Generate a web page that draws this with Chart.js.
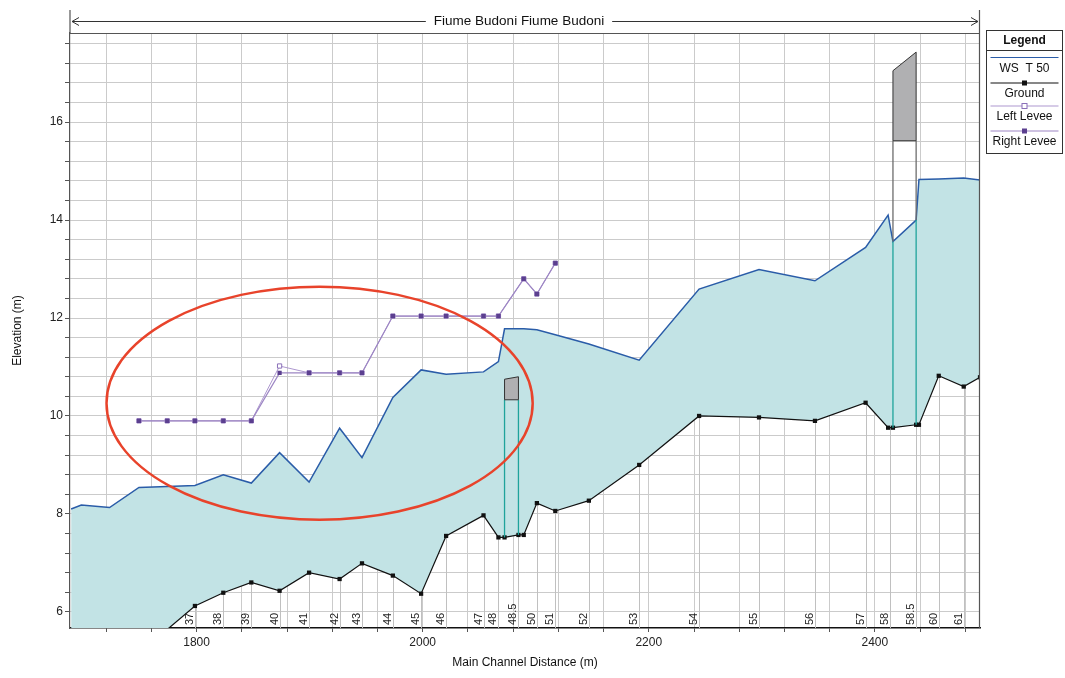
<!DOCTYPE html>
<html lang="en">
<head>
    <meta charset="UTF-8">
    <title>Fiume Budoni</title>
    <script src="https://cdn.jsdelivr.net/npm/chart.js"></script>
    <style>
        * { margin: 0; padding: 0; box-sizing: border-box; }
        body { background: #fff; width: 1065px; height: 678px; overflow: hidden; }
        .wrap { position: relative; width: 1065px; height: 678px; }
    </style>
</head>
<body>
    <div class="wrap">
        <canvas id="profileChart" width="1065" height="678"></canvas>
    </div>

    <script>
        // profile along the main channel (m)
        const profileDist = [1689, 1698, 1723, 1749, 1774, 1798.5, 1823.6, 1848.4, 1873.4, 1899.5, 1926.5, 1946.3, 1973.6, 1998.6, 2020.7, 2053.8, 2067, 2072.4, 2084.7, 2089.4, 2101, 2117.3, 2147, 2191.5, 2244.5, 2297.5, 2347, 2391.8, 2411.7, 2416, 2436.5, 2439, 2456.5, 2478.6, 2493];
        const wsElev = [8.10, 8.18, 8.13, 8.54, 8.56, 8.58, 8.80, 8.63, 9.25, 8.65, 9.75, 9.15, 10.38, 10.94, 10.85, 10.90, 11.11, 11.78, 11.78, 11.78, 11.76, 11.66, 11.47, 11.14, 12.59, 12.99, 12.76, 13.44, 14.10, 13.56, 14.00, 14.83, 14.84, 14.86, 14.82];
        const groundElev = [4.2, 4.4, 4.8, 5.2, 5.64, 6.12, 6.39, 6.60, 6.43, 6.80, 6.67, 6.99, 6.74, 6.37, 7.55, 7.97, 7.52, 7.52, 7.57, 7.57, 8.22, 8.06, 8.27, 9.00, 10.00, 9.97, 9.90, 10.27, 9.76, 9.76, 9.82, 9.82, 10.82, 10.60, 10.79];

        // levees
        const leveeDist = [1749, 1774, 1798.5, 1823.6, 1848.4, 1873.4, 1899.5, 1926.5, 1946.3, 1973.6, 1998.6, 2020.7, 2053.8, 2067, 2089.4, 2101, 2117.3];
        const rightLevee = [9.90, 9.90, 9.90, 9.90, 9.90, 10.88, 10.88, 10.88, 10.88, 12.04, 12.04, 12.04, 12.04, 12.04, 12.80, 12.49, 13.12];
        const leftLevee = [9.90, 9.90, 9.90, 9.90, 9.90, 11.02, 10.88, 10.88, 10.88, 12.04, 12.04, 12.04, 12.04, 12.04, 12.80, 12.49, 13.12];

        // cross section labels
        const stationNames = ['37', '38', '39', '40', '41', '42', '43', '44', '45', '46', '47', '48', '48.5', '50', '51', '52', '53', '54', '55', '56', '57', '58', '58.5', '60', '61'];
        const stationDist = [1798.5, 1823.6, 1848.4, 1873.4, 1899.5, 1926.5, 1946.3, 1973.6, 1998.6, 2020.7, 2053.8, 2067, 2084.7, 2101, 2117.3, 2147, 2191.5, 2244.5, 2297.5, 2347, 2391.8, 2413, 2436.5, 2456.5, 2478.6];

        // bridges
        const bridgeUpDist = [2072.4, 2416];
        const bridgeDownDist = [2084.7, 2436.5];
        const bridgeLowChord = [10.33, 15.62];
        const bridgeHighUp = [10.75, 17.05];
        const bridgeHighDown = [10.80, 17.43];

        // axes
        const xMin = 1688, xMax = 2493;
        const yMin = 5.67, yMax = 17.82;
        const xTicks = [];
        for (let i = 43; i <= 62; i++) xTicks.push(i * 40);
        const yTicks = [];
        for (let i = 15; i <= 44; i++) yTicks.push(Math.round(i * 4) / 10);

        // red ellipse drawn over the picture
        const markCenter = [1908.8, 10.26];
        const markRadius = [188.5, 2.38];

        const FONT = "'Liberation Sans', Arial, sans-serif";

        function toXY(xs, ys) {
            return xs.map((x, i) => ({ x: x, y: ys[i] }));
        }

        function interp(xs, ys, x) {
            for (let i = 0; i < xs.length - 1; i++) {
                if (x >= xs[i] && x <= xs[i + 1]) {
                    const t = (x - xs[i]) / (xs[i + 1] - xs[i]);
                    return ys[i] + t * (ys[i + 1] - ys[i]);
                }
            }
            return ys[ys.length - 1];
        }

        const profileExtras = {
            id: 'profileExtras',
            beforeDatasetsDraw(chart) {
                const { ctx, chartArea, scales } = chart;
                const xs = scales.x, ys = scales.y;
                ctx.save();
                ctx.strokeStyle = '#c0c0c0';
                ctx.lineWidth = 1;
                stationDist.forEach(d => {
                    const px = Math.round(xs.getPixelForValue(d)) + 0.5;
                    const py = ys.getPixelForValue(interp(profileDist, groundElev, d));
                    ctx.beginPath();
                    ctx.moveTo(px, py);
                    ctx.lineTo(px, chartArea.bottom);
                    ctx.stroke();
                });
                ctx.restore();
            },
            afterDatasetsDraw(chart) {
                const { ctx, chartArea, scales } = chart;
                const xs = scales.x, ys = scales.y;
                ctx.save();

                // bridges
                bridgeUpDist.forEach((up, i) => {
                    const faces = [up, bridgeDownDist[i]];
                    const low = bridgeLowChord[i];
                    faces.forEach(d => {
                        const px = xs.getPixelForValue(d);
                        const g = interp(profileDist, groundElev, d);
                        const w = Math.min(interp(profileDist, wsElev, d), low);
                        ctx.lineWidth = 1.3;
                        ctx.strokeStyle = '#1fa39b';
                        ctx.beginPath();
                        ctx.moveTo(px, ys.getPixelForValue(g));
                        ctx.lineTo(px, ys.getPixelForValue(w));
                        ctx.stroke();
                        if (w < low) {
                            ctx.strokeStyle = '#6d6d6d';
                            ctx.beginPath();
                            ctx.moveTo(px, ys.getPixelForValue(w));
                            ctx.lineTo(px, ys.getPixelForValue(low));
                            ctx.stroke();
                        }
                    });
                    ctx.beginPath();
                    ctx.moveTo(xs.getPixelForValue(faces[0]), ys.getPixelForValue(low));
                    ctx.lineTo(xs.getPixelForValue(faces[0]), ys.getPixelForValue(bridgeHighUp[i]));
                    ctx.lineTo(xs.getPixelForValue(faces[1]), ys.getPixelForValue(bridgeHighDown[i]));
                    ctx.lineTo(xs.getPixelForValue(faces[1]), ys.getPixelForValue(low));
                    ctx.closePath();
                    ctx.fillStyle = '#b0b0b2';
                    ctx.fill();
                    ctx.strokeStyle = '#333';
                    ctx.lineWidth = 1;
                    ctx.stroke();
                });

                // station labels
                ctx.fillStyle = '#222';
                ctx.font = '11px ' + FONT;
                ctx.textAlign = 'left';
                ctx.textBaseline = 'middle';
                stationNames.forEach((name, i) => {
                    const px = xs.getPixelForValue(stationDist[i]) - 5;
                    ctx.save();
                    ctx.translate(px, chartArea.bottom - 3);
                    ctx.rotate(-Math.PI / 2);
                    ctx.fillText(name, 0, 0);
                    ctx.restore();
                });

                // red mark
                const cx = xs.getPixelForValue(markCenter[0]);
                const cy = ys.getPixelForValue(markCenter[1]);
                const rx = xs.getPixelForValue(markCenter[0] + markRadius[0]) - cx;
                const ry = cy - ys.getPixelForValue(markCenter[1] + markRadius[1]);
                ctx.strokeStyle = '#e8432b';
                ctx.lineWidth = 2.5;
                ctx.beginPath();
                ctx.ellipse(cx, cy, rx, ry, 0, 0, Math.PI * 2);
                ctx.stroke();
                ctx.restore();
            },
            afterDraw(chart) {
                const { ctx, chartArea } = chart;
                const L = chartArea.left, R = chartArea.right, T = chartArea.top, B = chartArea.bottom;
                ctx.save();

                // frame
                ctx.strokeStyle = '#555';
                ctx.lineWidth = 1.2;
                ctx.beginPath();
                ctx.moveTo(L, 10); ctx.lineTo(L, T);
                ctx.moveTo(L, T + 0.5); ctx.lineTo(R, T + 0.5);
                ctx.moveTo(R - 0.5, 10); ctx.lineTo(R - 0.5, B);
                ctx.stroke();

                // river title with arrows
                const title = 'Fiume Budoni Fiume Budoni';
                const ty = 21;
                ctx.font = '13.5px ' + FONT;
                ctx.fillStyle = '#111';
                ctx.textAlign = 'center';
                ctx.textBaseline = 'middle';
                const tx = 519;
                ctx.fillText(title, tx, ty);
                const tw = ctx.measureText(title).width;
                ctx.strokeStyle = '#333';
                ctx.lineWidth = 1;
                ctx.beginPath();
                ctx.moveTo(L + 2, ty + 0.5); ctx.lineTo(tx - tw / 2 - 8, ty + 0.5);
                ctx.moveTo(tx + tw / 2 + 8, ty + 0.5); ctx.lineTo(R - 2, ty + 0.5);
                ctx.moveTo(L + 9, ty - 3.5); ctx.lineTo(L + 2, ty + 0.5); ctx.lineTo(L + 9, ty + 4.5);
                ctx.moveTo(R - 9, ty - 3.5); ctx.lineTo(R - 2, ty + 0.5); ctx.lineTo(R - 9, ty + 4.5);
                ctx.stroke();

                // axis titles
                ctx.font = '12px ' + FONT;
                ctx.fillStyle = '#111';
                ctx.fillText('Main Channel Distance (m)', (L + R) / 2, 663);
                ctx.save();
                ctx.translate(18, (T + B) / 2);
                ctx.rotate(-Math.PI / 2);
                ctx.fillText('Elevation (m)', 0, 0);
                ctx.restore();

                // legend box
                const lx = 986.5, lw = 76, lyTop = 30.5, lyBot = 153.5;
                ctx.fillStyle = '#fff';
                ctx.fillRect(lx, lyTop, lw, lyBot - lyTop);
                ctx.strokeStyle = '#333';
                ctx.lineWidth = 1;
                ctx.strokeRect(lx, lyTop, lw, lyBot - lyTop);
                ctx.beginPath();
                ctx.moveTo(lx, 50.5); ctx.lineTo(lx + lw, 50.5);
                ctx.stroke();
                ctx.fillStyle = '#111';
                ctx.font = 'bold 12px ' + FONT;
                ctx.fillText('Legend', lx + lw / 2, 41);

                const items = [
                    { name: 'WS  T 50', color: '#2a5ca8', marker: null, ly: 57.5, ty: 68.5 },
                    { name: 'Ground', color: '#111', marker: 'fill', mcolor: '#111', ly: 83, ty: 94 },
                    { name: 'Left Levee', color: '#ad97cf', marker: 'open', mcolor: '#8a6fb8', ly: 106, ty: 117 },
                    { name: 'Right Levee', color: '#9d86c4', marker: 'fill', mcolor: '#5b3f8f', ly: 131, ty: 142 }
                ];
                ctx.font = '12px ' + FONT;
                items.forEach(it => {
                    ctx.strokeStyle = it.color;
                    ctx.lineWidth = 1.2;
                    ctx.beginPath();
                    ctx.moveTo(lx + 4, it.ly); ctx.lineTo(lx + lw - 4, it.ly);
                    ctx.stroke();
                    const mx = lx + lw / 2;
                    if (it.marker === 'fill') {
                        ctx.fillStyle = it.mcolor;
                        ctx.fillRect(mx - 2.5, it.ly - 2.5, 5, 5);
                    } else if (it.marker === 'open') {
                        ctx.fillStyle = '#fff';
                        ctx.fillRect(mx - 2.5, it.ly - 2.5, 5, 5);
                        ctx.strokeStyle = it.mcolor;
                        ctx.lineWidth = 1;
                        ctx.strokeRect(mx - 2.5, it.ly - 2.5, 5, 5);
                    }
                    ctx.fillStyle = '#111';
                    ctx.fillText(it.name, mx, it.ty);
                });
                ctx.restore();
            }
        };

        const hideBelow = c => (c.raw && c.raw.y < yMin ? 0 : 3);

        const ctx = document.getElementById('profileChart').getContext('2d');
        const profileChart = new Chart(ctx, {
            type: 'line',
            data: {
                datasets: [{
                    label: 'WS  T 50',
                    data: toXY(profileDist, wsElev),
                    borderColor: '#2a5ca8',
                    borderWidth: 1.5,
                    backgroundColor: '#c2e3e5',
                    fill: 1,
                    pointRadius: 0,
                    tension: 0,
                    order: 3
                },
                {
                    label: 'Ground',
                    data: toXY(profileDist, groundElev),
                    borderColor: '#111',
                    borderWidth: 1.2,
                    pointStyle: 'rect',
                    pointRadius: hideBelow,
                    pointBackgroundColor: '#111',
                    pointBorderColor: '#111',
                    pointBorderWidth: 0,
                    fill: false,
                    order: 2
                },
                {
                    label: 'Left Levee',
                    data: toXY(leveeDist, leftLevee),
                    borderColor: '#ad97cf',
                    borderWidth: 1,
                    pointStyle: 'rect',
                    pointRadius: 3,
                    pointBackgroundColor: '#fff',
                    pointBorderColor: '#8a6fb8',
                    pointBorderWidth: 1,
                    fill: false,
                    order: 1
                },
                {
                    label: 'Right Levee',
                    data: toXY(leveeDist, rightLevee),
                    borderColor: '#9d86c4',
                    borderWidth: 1.2,
                    pointStyle: 'rect',
                    pointRadius: 3,
                    pointBackgroundColor: '#5b3f8f',
                    pointBorderColor: '#5b3f8f',
                    pointBorderWidth: 0,
                    fill: false,
                    order: 0
                }]
            },
            options: {
                responsive: false,
                animation: false,
                events: [],
                layout: { padding: { top: 33, right: 85, left: 0, bottom: 0 } },
                plugins: {
                    legend: { display: false },
                    tooltip: { enabled: false }
                },
                scales: {
                    x: {
                        type: 'linear',
                        min: xMin,
                        max: xMax,
                        afterFit: s => { s.height = 50; },
                        afterBuildTicks: s => { s.ticks = xTicks.map(v => ({ value: v })); },
                        ticks: {
                            autoSkip: false,
                            maxRotation: 0,
                            padding: 3,
                            color: '#222',
                            font: { family: FONT, size: 12 },
                            callback: v => (v % 200 === 0 ? String(v) : '')
                        },
                        grid: { color: '#cbcbcb', lineWidth: 1, tickLength: 4, tickColor: '#555' },
                        border: { color: '#111', width: 1.5 }
                    },
                    y: {
                        min: yMin,
                        max: yMax,
                        afterFit: s => { s.width = 70; },
                        afterBuildTicks: s => { s.ticks = yTicks.map(v => ({ value: v })); },
                        ticks: {
                            autoSkip: false,
                            padding: 2,
                            color: '#222',
                            font: { family: FONT, size: 12 },
                            callback: v => (Math.abs(v / 2 - Math.round(v / 2)) < 1e-6 ? String(Math.round(v)) : '')
                        },
                        grid: { color: '#cbcbcb', lineWidth: 1, tickLength: 5, tickColor: '#555' },
                        border: { color: '#555', width: 1.2 }
                    }
                }
            },
            plugins: [profileExtras]
        });
    </script>
</body>
</html>
